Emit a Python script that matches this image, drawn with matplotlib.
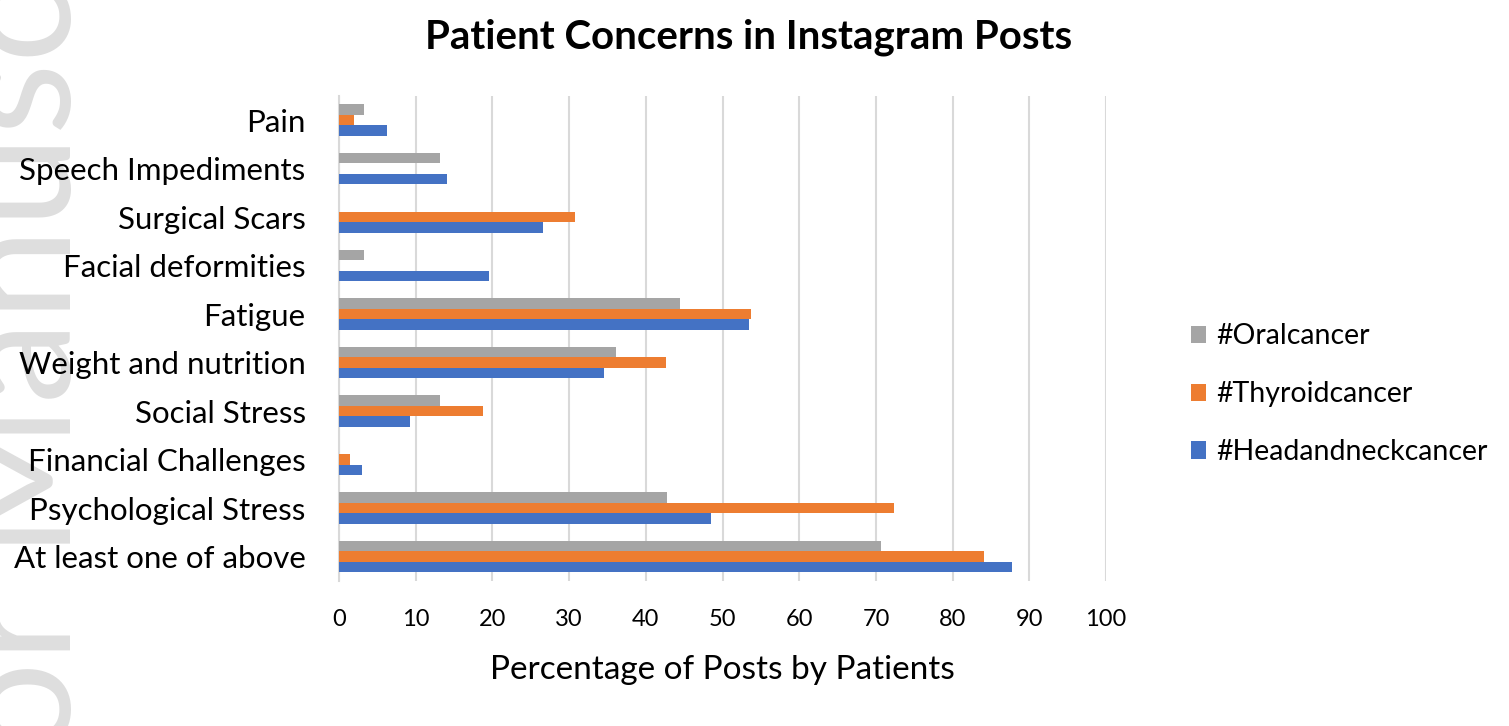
import matplotlib
matplotlib.use("Agg")
import matplotlib.pyplot as plt
import numpy as np

categories = ["At least one of above", "Psychological Stress", "Financial Challenges",
              "Social Stress", "Weight and nutrition", "Fatigue", "Facial deformities",
              "Surgical Scars", "Speech Impediments", "Pain"]
head_neck = [87.7, 48.5, 3.0, 9.2, 34.5, 53.4, 19.5, 26.6, 14.1, 6.3]
thyroid = [84.1, 72.3, 1.4, 18.8, 42.6, 53.7, 0, 30.7, 0, 2.0]
oral = [70.6, 42.8, 0, 13.1, 36.1, 44.5, 3.3, 0, 13.1, 3.3]
series_names = ["#Headandneckcancer", "#Thyroidcancer", "#Oralcancer"]
colors = ["#4472C4", "#ED7D31", "#A5A5A5"]
xticks = list(range(0, 101, 10))

plt.rcParams['font.family'] = ['Lato', 'DejaVu Sans']

fig = plt.figure(figsize=(15.09, 7.26), dpi=100)
ax = fig.add_axes([0.2247, 0.200, 0.5083, 0.668])

# watermark (drawn behind everything)
fig.text(0.016, 0.42, "Author Manuscript", rotation=90, fontsize=120, color="#dedede",
         ha="center", va="center", zorder=-5)

y = np.arange(len(categories))
h = 0.215
ax.barh(y - h, head_neck, height=h, color=colors[0], label=series_names[0], zorder=3)
ax.barh(y, thyroid, height=h, color=colors[1], label=series_names[1], zorder=3)
ax.barh(y + h, oral, height=h, color=colors[2], label=series_names[2], zorder=3)

ax.set_xlim(0, 100)
ax.set_ylim(-0.5, len(categories) - 0.5)
ax.set_xticks(xticks)
ax.set_xticklabels([str(t) for t in xticks], fontsize=17)
ax.set_yticks(y)
ax.set_yticklabels(categories, fontsize=22.5)
ax.tick_params(length=0)
ax.tick_params(axis='x', pad=20)
ax.tick_params(axis='y', pad=24)
ax.grid(axis='x', color="#d9d9d9", linewidth=1.5, zorder=0)
for s in ["top", "right", "bottom"]:
    ax.spines[s].set_visible(False)
ax.spines["left"].set_color("#d9d9d9")
ax.spines["left"].set_linewidth(1.5)
ax.patch.set_alpha(0)

ax.set_xlabel("Percentage of Posts by Patients", fontsize=24, labelpad=18)
fig.suptitle("Patient Concerns in Instagram Posts", fontsize=29, fontweight="bold", x=0.496, y=0.975)

handles, labels = ax.get_legend_handles_labels()
leg = fig.legend(handles[::-1], labels[::-1], loc="center left", bbox_to_anchor=(0.772, 0.457),
                 frameon=False, fontsize=20.5, handlelength=0.55, handleheight=0.55,
                 labelspacing=1.12, handletextpad=0.35)

fig.savefig("out.png", dpi=100)
